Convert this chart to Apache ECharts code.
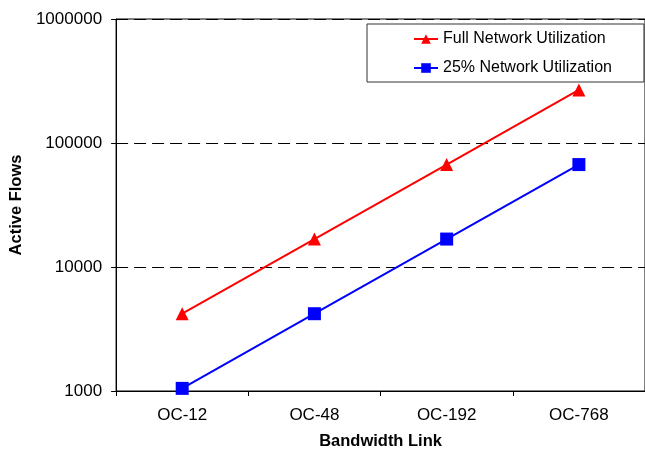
<!DOCTYPE html>
<html>
<head>
<meta charset="utf-8">
<script src="https://cdn.jsdelivr.net/npm/echarts@6/dist/echarts.min.js"></script>
<style>
  html, body { margin: 0; padding: 0; background: #fff; overflow: hidden; }
  #chart { width: 645px; height: 455px; }
</style>
</head>
<body>
<div id="chart"></div>
<script>
// Link speeds on the category axis
const categories = ['OC-12', 'OC-48', 'OC-192', 'OC-768'];
// Active flow counts per link speed
const fullUtilization = [4200, 16800, 67000, 268000];
const quarterUtilization = [1050, 4200, 16800, 67000];

const FONT = '"Liberation Sans", Arial, sans-serif';

const chart = echarts.init(document.getElementById('chart'), null, { renderer: 'canvas' });

chart.setOption({
  animation: false,
  backgroundColor: '#fff',
  textStyle: { fontFamily: FONT },
  // plot frame runs a little past the right edge of the canvas
  grid: {
    left: 114, top: 19, width: 540, height: 375,
    show: true, borderColor: '#000', borderWidth: 1, backgroundColor: 'transparent'
  },
  legend: {
    orient: 'vertical',
    left: 367, top: 24,
    padding: [7, 32, 6, 46],
    itemGap: 13,
    itemWidth: 24, itemHeight: 12,
    borderColor: '#333', borderWidth: 1,
    backgroundColor: '#fff',
    textStyle: { fontFamily: FONT, fontSize: 16, color: '#000' },
    data: ['Full Network Utilization', '25% Network Utilization']
  },
  xAxis: {
    type: 'category',
    data: categories,
    boundaryGap: true,
    name: 'Bandwidth Link',
    nameLocation: 'middle',
    nameGap: 42,
    nameTextStyle: { fontFamily: FONT, fontSize: 16.5, fontWeight: 'bold', color: '#000' },
    axisLine: { lineStyle: { color: '#000', width: 1 } },
    axisTick: { show: true, length: 5, inside: false, lineStyle: { color: '#000' } },
    axisLabel: { fontFamily: FONT, fontSize: 17, color: '#000', margin: 16 },
    splitLine: { show: false }
  },
  yAxis: {
    type: 'log',
    logBase: 10,
    min: 1000,
    max: 1000000,
    name: 'Active Flows',
    nameLocation: 'middle',
    nameGap: 83,
    nameRotate: 90,
    nameTextStyle: { fontFamily: FONT, fontSize: 16.5, fontWeight: 'bold', color: '#000' },
    axisLine: { show: true, lineStyle: { color: '#000', width: 1 } },
    axisTick: { show: true, length: 5, inside: false, lineStyle: { color: '#000' } },
    axisLabel: {
      fontFamily: FONT, fontSize: 17, color: '#000', margin: 14,
      formatter: v => String(Math.round(v))
    },
    splitLine: { show: true, lineStyle: { color: '#000', type: [12, 6], width: 1 } }
  },
  series: [
    {
      name: 'Full Network Utilization',
      type: 'line',
      data: fullUtilization,
      symbol: 'triangle',
      symbolSize: 13,
      lineStyle: { color: '#ff0000', width: 2 },
      itemStyle: { color: '#ff0000' }
    },
    {
      name: '25% Network Utilization',
      type: 'line',
      data: quarterUtilization,
      symbol: 'rect',
      symbolSize: 13,
      lineStyle: { color: '#0000ff', width: 2 },
      itemStyle: { color: '#0000ff' }
    }
  ]
});
</script>
</body>
</html>
